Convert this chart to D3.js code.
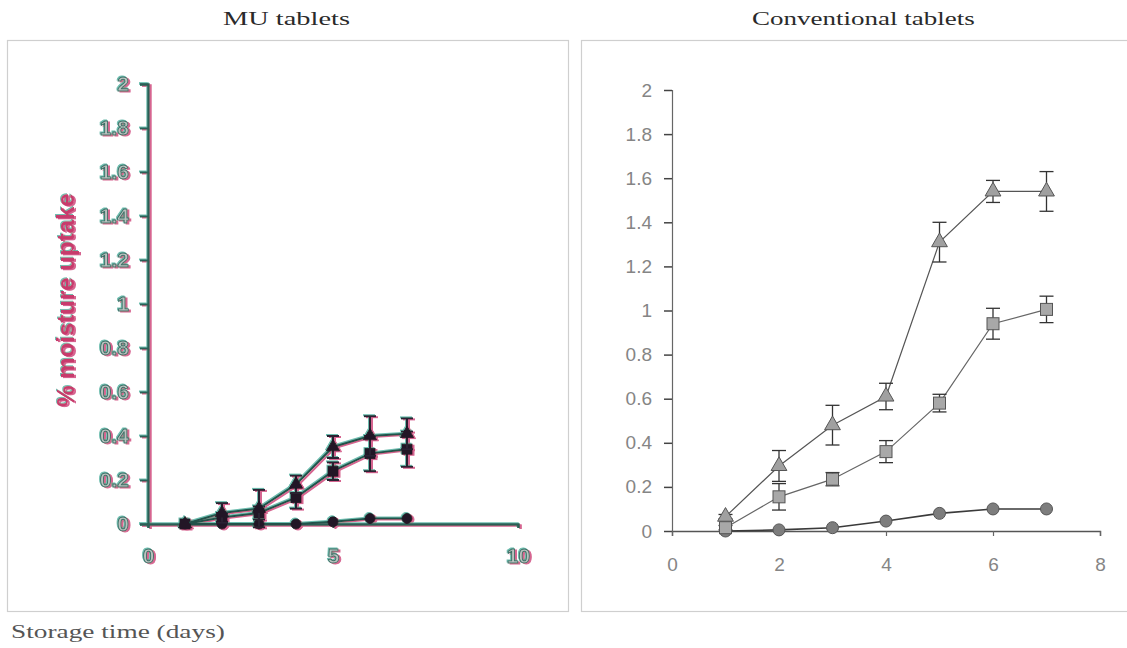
<!DOCTYPE html>
<html><head><meta charset="utf-8">
<script src="https://cdn.jsdelivr.net/npm/d3@7"></script>
<style>body{margin:0;background:#fff}</style>
</head><body>
<svg id="c" width="1127" height="648"></svg>
<script>
// ---- data ----
const days = [1,2,3,4,5,6,7];
const muA = [0,0.05,0.07,0.18,0.35,0.40,0.41];
const muAErr = [0,0.045,0.085,0.04,0.05,0.09,0.07];
const muB = [0,0.03,0.05,0.12,0.24,0.32,0.34];
const muBErr = [0,0.02,0.03,0.05,0.04,0.08,0.08];
const muC = [0,0,0,0,0.01,0.025,0.025];
const muCErr = [0,0,0,0,0,0,0];
const convTri = [0.065,0.295,0.48,0.61,1.31,1.54,1.54];
const convTriErr = [0.01,0.07,0.09,0.06,0.09,0.05,0.09];
const convSq = [0.015,0.155,0.235,0.36,0.58,0.94,1.005];
const convSqErr = [0.01,0.06,0.03,0.05,0.04,0.07,0.06];
const convCirc = [0,0.005,0.015,0.045,0.08,0.10,0.10];
const convCircErr = [0,0,0,0,0,0,0];
const yTicks = [0,0.2,0.4,0.6,0.8,1,1.2,1.4,1.6,1.8,2];
const muXTicks = [0,5,10];
const convXTicks = [0,2,4,6,8];
const titles = ["MU tablets","Conventional tablets"];
const yTitle = "% moisture uptake";
const xTitle = "Storage time (days)";

const svg = d3.select("#c");
const defs = svg.append("defs");
const f = defs.append("filter").attr("id","chroma").attr("x","-20%").attr("y","-20%").attr("width","140%").attr("height","140%");
f.append("feOffset").attr("in","SourceAlpha").attr("dx",2).attr("dy",1.2).attr("result","o1");
f.append("feFlood").attr("flood-color","#c8306a").attr("flood-opacity",0.75).attr("result","c1");
f.append("feComposite").attr("in","c1").attr("in2","o1").attr("operator","in").attr("result","s1");
f.append("feOffset").attr("in","SourceAlpha").attr("dx",-1.2).attr("dy",-0.8).attr("result","o2");
f.append("feFlood").attr("flood-color","#2fa08c").attr("flood-opacity",0.7).attr("result","c2");
f.append("feComposite").attr("in","c2").attr("in2","o2").attr("operator","in").attr("result","s2");
const m = f.append("feMerge");
m.append("feMergeNode").attr("in","s1");
m.append("feMergeNode").attr("in","s2");
m.append("feMergeNode").attr("in","SourceGraphic");

// panel frames
svg.append("rect").attr("x",7.5).attr("y",40.5).attr("width",561).attr("height",571)
  .attr("fill","none").attr("stroke","#cfcfcf").attr("stroke-width",1.2);
svg.append("rect").attr("x",581.5).attr("y",40.5).attr("width",560).attr("height",571)
  .attr("fill","none").attr("stroke","#cfcfcf").attr("stroke-width",1.2);

// serif labels stretched horizontally to the width seen in the scan
function serifLabel(x, y, width, size, weight, fill, txt) {
  const t = svg.append("text").attr("x",0).attr("y",0)
    .attr("font-family","Liberation Serif, serif").attr("font-size",size).attr("font-weight",weight)
    .attr("fill",fill).text(txt);
  const w = t.node().getComputedTextLength();
  t.attr("transform",`translate(${x},${y}) scale(${width/w},1)`);
}
serifLabel(223, 25, 127, 18, "normal", "#2a2a2a", titles[0]);
serifLabel(752, 25, 223, 18, "normal", "#2a2a2a", titles[1]);
serifLabel(11, 638, 214, 18, "normal", "#555", xTitle);

function marker(g, shape, x, y, size, fill, stroke) {
  if (shape === "circle") {
    g.append("circle").attr("cx",x).attr("cy",y).attr("r",size/2).attr("fill",fill).attr("stroke",stroke).attr("stroke-width",1);
  } else if (shape === "square") {
    g.append("rect").attr("x",x-size/2).attr("y",y-size/2).attr("width",size).attr("height",size).attr("fill",fill).attr("stroke",stroke).attr("stroke-width",1);
  } else {
    const s = d3.symbol().type(d3.symbolTriangle).size(size*size*0.75);
    g.append("path").attr("d",s()).attr("transform",`translate(${x},${y})`).attr("fill",fill).attr("stroke",stroke).attr("stroke-width",1);
  }
}

function drawSeries(g, x, y, vals, errs, shape, st) {
  const line = d3.line().x((d,i)=>x(days[i])).y(d=>y(d));
  g.append("path").datum(vals).attr("d",line).attr("fill","none")
    .attr("stroke",st.line).attr("stroke-width",st.lw);
  vals.forEach((v,i)=>{
    const e = errs[i];
    if (e > 0) {
      const cx = x(days[i]);
      g.append("line").attr("x1",cx).attr("x2",cx).attr("y1",y(v-e)).attr("y2",y(v+e)).attr("stroke",st.err).attr("stroke-width",st.elw);
      [v-e, v+e].forEach(t=>{
        g.append("line").attr("x1",cx-st.cap).attr("x2",cx+st.cap).attr("y1",y(t)).attr("y2",y(t)).attr("stroke",st.err).attr("stroke-width",st.elw);
      });
    }
  });
  vals.forEach((v,i)=>marker(g, shape, x(days[i]), y(v), st.ms, st.fill, st.stroke));
}

// ---- MU panel ----
(function(){
  const x = d3.scaleLinear().domain([0,10]).range([148,518]);
  const y = d3.scaleLinear().domain([0,2]).range([524,84]);
  const g = svg.append("g").attr("filter","url(#chroma)");
  const font = "Liberation Sans, Arial, sans-serif";
  const ya = g.append("g").attr("transform","translate(148,0)")
    .call(d3.axisLeft(y).tickValues(yTicks).tickFormat(d=>String(d)).tickSize(8).tickPadding(11));
  ya.select(".domain").attr("stroke","#2c5f57").attr("stroke-width",2.4);
  ya.selectAll(".tick line").attr("stroke","#2c5f57").attr("stroke-width",2);
  ya.selectAll(".tick text").attr("font-family",font).attr("font-size",21)
    .attr("font-weight","bold").attr("fill","#b9c2bf").attr("stroke","#3d6f66").attr("stroke-width",0.9);
  const xa = g.append("g").attr("transform","translate(0,524)")
    .call(d3.axisBottom(x).tickValues(muXTicks).tickFormat(d=>String(d)).tickSize(4).tickPadding(20));
  xa.select(".domain").attr("stroke","#2c5f57").attr("stroke-width",2.4);
  xa.selectAll(".tick line").attr("stroke","#2c5f57").attr("stroke-width",2);
  xa.selectAll(".tick text").attr("font-family",font).attr("font-size",21)
    .attr("font-weight","bold").attr("fill","#b9c2bf").attr("stroke","#3d6f66").attr("stroke-width",0.9);
  g.append("text").attr("transform","translate(74,300) rotate(-90)").attr("text-anchor","middle")
    .attr("font-family",font).attr("font-size",24).attr("font-weight","bold")
    .attr("fill","#c83a6c").text(yTitle);
  const st = {line:"#24524b", lw:2, err:"#2a2030", elw:2, cap:6, ms:10, fill:"#241826", stroke:"#241826"};
  drawSeries(g, x, y, muC, muCErr, "circle", st);
  drawSeries(g, x, y, muB, muBErr, "square", st);
  drawSeries(g, x, y, muA, muAErr, "triangle", st);
})();

// ---- Conventional panel ----
(function(){
  const x = d3.scaleLinear().domain([0,8]).range([672,1100]);
  const y = d3.scaleLinear().domain([0,2]).range([531,90]);
  const g = svg.append("g");
  const font = "Liberation Sans, Arial, sans-serif";
  const ya = g.append("g").attr("transform","translate(672,0)")
    .call(d3.axisLeft(y).tickValues(yTicks).tickFormat(d=>String(d)).tickSize(8).tickPadding(12));
  ya.select(".domain").attr("stroke","#666").attr("stroke-width",1.2);
  ya.selectAll(".tick line").attr("stroke","#444").attr("stroke-width",1.5);
  ya.selectAll(".tick text").attr("font-family",font).attr("font-size",19).attr("fill","#858585");
  const xa = g.append("g").attr("transform","translate(0,531)")
    .call(d3.axisBottom(x).tickValues(convXTicks).tickFormat(d=>String(d)).tickSize(5).tickPadding(22));
  xa.select(".domain").attr("stroke","#555").attr("stroke-width",1.4);
  xa.selectAll(".tick line").attr("stroke","#666").attr("stroke-width",1.2);
  xa.selectAll(".tick text").attr("font-family",font).attr("font-size",19).attr("fill","#858585");
  drawSeries(g, x, y, convCirc, convCircErr, "circle",
    {line:"#3a3a3a", lw:1.6, err:"#333", elw:1.3, cap:6, ms:12, fill:"#7d7d7d", stroke:"#555"});
  drawSeries(g, x, y, convSq, convSqErr, "square",
    {line:"#666", lw:1.2, err:"#333", elw:1.3, cap:7, ms:12, fill:"#a8a8a8", stroke:"#555"});
  drawSeries(g, x, y, convTri, convTriErr, "triangle",
    {line:"#555", lw:1.2, err:"#333", elw:1.3, cap:7, ms:12, fill:"#a0a0a0", stroke:"#555"});
})();
</script>
</body></html>
